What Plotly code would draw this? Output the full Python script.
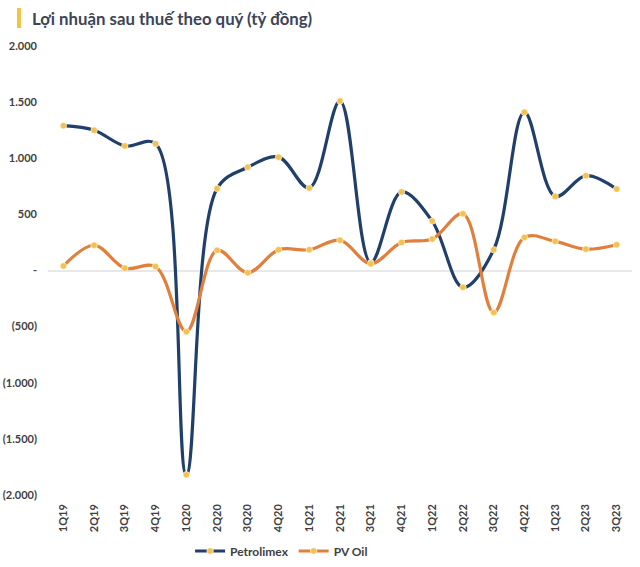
import plotly.graph_objects as go

quarters = ["1Q19", "2Q19", "3Q19", "4Q19", "1Q20", "2Q20", "3Q20", "4Q20",
            "1Q21", "2Q21", "3Q21", "4Q21", "1Q22", "2Q22", "3Q22", "4Q22",
            "1Q23", "2Q23", "3Q23"]
petrolimex = [1290, 1250, 1110, 1130, -1820, 730, 920, 1010, 735, 1510,
              70, 700, 440, -150, 185, 1410, 660, 845, 725]
pv_oil = [40, 225, 20, 35, -545, 180, -20, 185, 185, 270,
          60, 250, 280, 505, -375, 295, 260, 190, 230]

tick_vals = [2000, 1500, 1000, 500, 0, -500, -1000, -1500, -2000]
tick_text = ["2.000", "1.500", "1.000", "500", "-", "(500)", "(1.000)", "(1.500)", "(2.000)"]

title_text = "Lợi nhuận sau thuế theo quý (tỷ đồng)"

marker_style = dict(size=6.5, color="#f2c14e", line=dict(color="#ffffff", width=0.6))

fig = go.Figure()
fig.add_trace(go.Scatter(
    x=quarters, y=petrolimex, name="Petrolimex", mode="lines+markers",
    line=dict(color="#203f6b", width=3.2, shape="spline", smoothing=1.0),
    marker=marker_style,
))
fig.add_trace(go.Scatter(
    x=quarters, y=pv_oil, name="PV Oil", mode="lines+markers",
    line=dict(color="#e0803c", width=3.2, shape="spline", smoothing=1.0),
    marker=marker_style,
))

W, H = 640, 567
L, R, T, B = 48, 8, 46, 72
pw, ph = W - L - R, H - T - B

fig.update_layout(
    width=W, height=H,
    margin=dict(l=L, r=R, t=T, b=B, autoexpand=False),
    paper_bgcolor="white", plot_bgcolor="white",
    font=dict(family="Lato, 'Open Sans', sans-serif", color="#404040"),
    showlegend=True,
    legend=dict(orientation="h", x=0.40, xanchor="center", y=-56 / ph, yanchor="middle",
                font=dict(size=12, color="#404040", family="Lato", weight="bold"),
                tracegroupgap=0),
    xaxis=dict(type="category", range=[-0.5, len(quarters) - 0.5], tickangle=-90,
               showgrid=False, zeroline=False,
               showline=False, ticks="", automargin=False, ticklabelstandoff=6,
               tickfont=dict(size=11, color="#404040", family="Lato", weight="bold")),
    yaxis=dict(range=[-2000, 2000], tickvals=tick_vals, ticktext=tick_text,
               showgrid=False, zeroline=True, zerolinecolor="#e8e8e8", zerolinewidth=1.5,
               showline=False, ticks="", ticklabelstandoff=10, automargin=False,
               tickfont=dict(size=11, color="#404040", family="Lato", weight="bold")),
    annotations=[dict(
        text="<b>" + title_text + "</b>", xref="paper", yref="paper",
        x=-18 / pw, y=1 + 28 / ph, xanchor="left", yanchor="middle",
        showarrow=False, font=dict(size=16.8, color="#3b4557", family="Lato"),
    )],
    shapes=[dict(type="rect", xref="paper", yref="paper",
                 x0=-31 / pw, x1=-27 / pw,
                 y0=1 + 18 / ph, y1=1 + 38 / ph,
                 fillcolor="#f5c342", line=dict(width=0))],
)

fig.write_html(
    "out.html",
    config={"displayModeBar": False},
    post_script="document.body.style.margin='0';document.body.style.overflow='hidden';",
)
